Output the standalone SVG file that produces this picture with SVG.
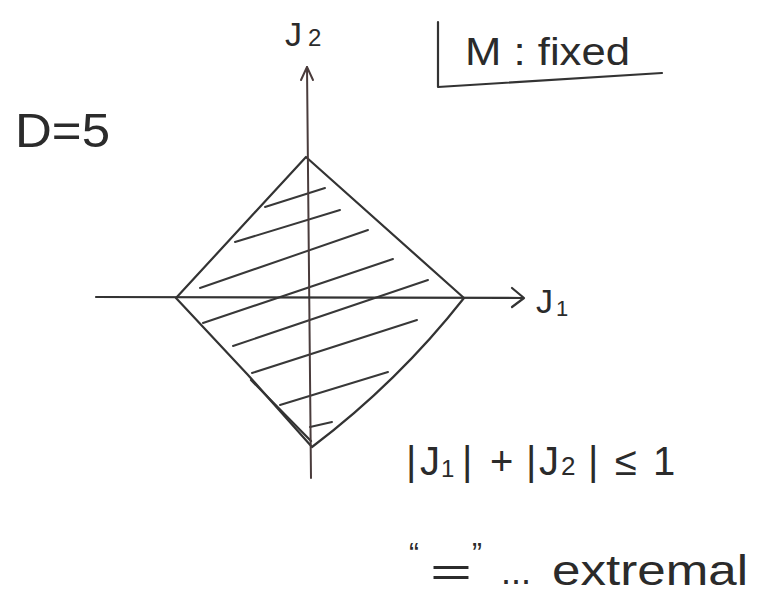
<svg xmlns="http://www.w3.org/2000/svg" width="765" height="596" viewBox="0 0 765 596">
<style>
.ln{fill:none;stroke:#333;stroke-width:2.2;stroke-linecap:round;stroke-linejoin:round}
.ax{fill:none;stroke:#4a3c3c;stroke-width:2;stroke-linecap:round;stroke-linejoin:round}
.ht{fill:none;stroke:#383838;stroke-width:2;stroke-linecap:round}
.tx{font-family:"Liberation Sans","DejaVu Sans",sans-serif;fill:#2b2b2b}
</style>
<rect width="765" height="596" fill="#ffffff"/>
<g id="region">
<path class="ln" d="M306,157 L464,298 Q398,382 312,447 L248,375 L176,298 Z"/>
<path class="ln" d="M251,380 L311,441"/>
<g id="hatching">
<path class="ht" d="M265,207 L325,188"/>
<path class="ht" d="M235,242 L340,210"/>
<path class="ht" d="M200,288 L368,230"/>
<path class="ht" d="M203,323 L393,259"/>
<path class="ht" d="M233,346 L428,280"/>
<path class="ht" d="M252,373 L417,320"/>
<path class="ht" d="M280,405 L388,372"/>
<path class="ht" d="M310,427 L332,422"/>
</g>
</g>
<g id="axes">
<path class="ax" d="M307,67 L311,478"/>
<path class="ax" d="M301,80 L307,67 L313,80"/>
<path class="ln" d="M96,297 L523,298"/>
<path class="ln" d="M512,288 L524,298 L512,307"/>
</g>
<g id="labels">
<text class="tx" x="285" y="46" font-size="34">J<tspan font-size="24" dx="6">2</tspan></text>
<text class="tx" x="536" y="313" font-size="34">J<tspan font-size="22" dx="3" dy="3">1</tspan></text>
<text class="tx" x="15" y="147" font-size="48" textLength="95" lengthAdjust="spacingAndGlyphs">D=5</text>
</g>
<g id="note-fixed">
<path class="ln" d="M438,22 L438,87 L662,73"/>
<text class="tx" x="465" y="65" font-size="39" textLength="165" lengthAdjust="spacingAndGlyphs">M : fixed</text>
</g>
<g id="inequality">
<text class="tx" y="475" font-size="40"><tspan x="406">|</tspan><tspan x="420">J</tspan><tspan x="441" font-size="24" dy="2">1</tspan><tspan x="462" dy="-2">|</tspan><tspan x="490">+</tspan><tspan x="526">|</tspan><tspan x="539">J</tspan><tspan x="561" font-size="26">2</tspan><tspan x="588">|</tspan><tspan x="615">≤</tspan><tspan x="653">1</tspan></text>
</g>
<g id="extremal">
<text class="tx" x="409" y="563" font-size="30">“</text>
<text class="tx" x="430" y="586" font-size="40" textLength="42" lengthAdjust="spacingAndGlyphs">=</text>
<text class="tx" x="472" y="563" font-size="30">”</text>
<text class="tx" x="501" y="584" font-size="36">...</text>
<text class="tx" x="552" y="585" font-size="42" textLength="196" lengthAdjust="spacingAndGlyphs">extremal</text>
</g>
</svg>
